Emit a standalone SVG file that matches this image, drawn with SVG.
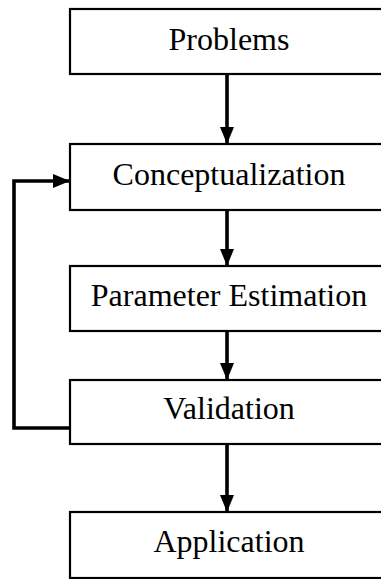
<svg xmlns="http://www.w3.org/2000/svg" width="381" height="579" viewBox="0 0 381 579">
<style>
.box{fill:#fff;stroke:#000;stroke-width:2.2}
.lbl{font-family:"Liberation Serif","Times New Roman",serif;font-size:32px;fill:#000;text-anchor:middle}
.con{fill:none;stroke:#000;stroke-width:3.6}
</style>
<defs>
<marker id="ah" viewBox="0 0 17 14" refX="17" refY="7" markerWidth="17" markerHeight="14" markerUnits="userSpaceOnUse" orient="auto">
<path d="M0,0 L17,7 L0,14 Z" fill="#000"/>
</marker>
</defs>
<g id="connectors">
<line class="con" x1="227" y1="74" x2="227" y2="144" marker-end="url(#ah)"/>
<line class="con" x1="227" y1="210" x2="227" y2="266" marker-end="url(#ah)"/>
<line class="con" x1="227" y1="331" x2="227" y2="380" marker-end="url(#ah)"/>
<line class="con" x1="227" y1="444" x2="227" y2="512" marker-end="url(#ah)"/>
<polyline class="con" points="70,428 14,428 14,181 70,181" marker-end="url(#ah)"/>
</g>
<g id="problems"><rect class="box" x="70" y="9" width="320" height="65"/><text class="lbl" x="229" y="50">Problems</text></g>
<g id="conceptualization"><rect class="box" x="70" y="144" width="320" height="66"/><text class="lbl" x="229" y="185">Conceptualization</text></g>
<g id="parameter-estimation"><rect class="box" x="70" y="266" width="320" height="65"/><text class="lbl" x="229" y="306">Parameter Estimation</text></g>
<g id="validation"><rect class="box" x="70" y="380" width="320" height="64"/><text class="lbl" x="229" y="419">Validation</text></g>
<g id="application"><rect class="box" x="70" y="512" width="320" height="66"/><text class="lbl" x="229" y="552">Application</text></g>
</svg>
